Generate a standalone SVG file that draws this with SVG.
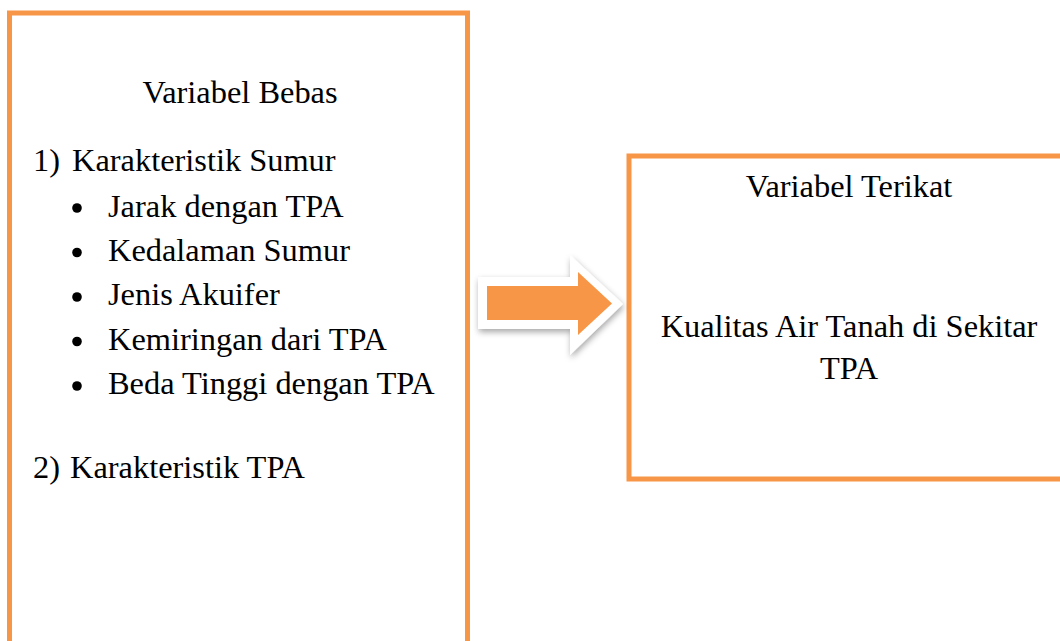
<svg xmlns="http://www.w3.org/2000/svg" width="1060" height="641" viewBox="0 0 1060 641">
<defs>
<style>
.box{fill:#ffffff;stroke:#F79646;stroke-width:5}
.t{font-family:"Liberation Serif","Times New Roman",serif;font-size:32.4px;fill:#000000}
.c{text-anchor:middle}
</style>
<filter id="sh" x="-20%" y="-20%" width="140%" height="150%">
<feDropShadow dx="1" dy="3" stdDeviation="3" flood-color="#000000" flood-opacity="0.35"/>
</filter>
</defs>
<rect width="1060" height="641" fill="#ffffff"/>
<g id="variabel-bebas">
<rect class="box" x="9.5" y="13" width="458" height="660"/>
<text class="t c" x="240" y="103">Variabel Bebas</text>
<text class="t" x="33" y="171">1)</text>
<text class="t" x="72" y="171">Karakteristik Sumur</text>
<circle cx="77" cy="208" r="4.8"/>
<text class="t" x="108" y="216.5">Jarak dengan TPA</text>
<circle cx="77" cy="252.5" r="4.8"/>
<text class="t" x="108" y="261">Kedalaman Sumur</text>
<circle cx="77" cy="297" r="4.8"/>
<text class="t" x="108" y="305">Jenis Akuifer</text>
<circle cx="77" cy="341.5" r="4.8"/>
<text class="t" x="108" y="349.5">Kemiringan dari TPA</text>
<circle cx="77" cy="386" r="4.8"/>
<text class="t" x="108" y="394">Beda Tinggi dengan TPA</text>
<text class="t" x="33" y="478">2)</text>
<text class="t" x="70" y="478">Karakteristik TPA</text>
</g>
<g id="variabel-terikat">
<rect class="box" x="629" y="156" width="460" height="323"/>
<text class="t c" x="849" y="197">Variabel Terikat</text>
<text class="t c" x="849" y="337">Kualitas Air Tanah di Sekitar</text>
<text class="t c" x="849" y="379">TPA</text>
</g>
<g id="connectors">
<polygon points="478,277 570,277 570,255 623,304 570,355 570,329 478,329" fill="#ffffff" filter="url(#sh)"/>
<polygon points="487,286 578,286 578,272 612,303.5 578,335 578,320 487,320" fill="#F79646"/>
</g>
</svg>
